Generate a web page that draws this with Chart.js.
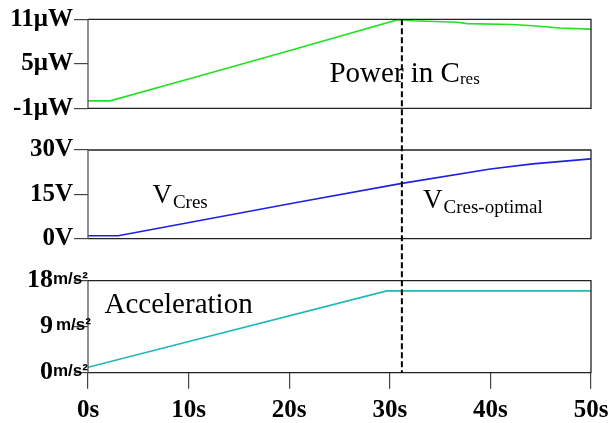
<!DOCTYPE html>
<html>
<head>
<meta charset="utf-8">
<script src="https://cdn.jsdelivr.net/npm/chart.js@4.4.1/dist/chart.umd.min.js"></script>
<style>
  html, body { margin: 0; padding: 0; background: #fff; }
  #wrap { position: relative; width: 611px; height: 423px; }
  .c { position: absolute; left: 0; }
</style>
</head>
<body>
<div id="wrap">
  <div class="c" style="top:0;width:611px;height:129px"><canvas id="c1"></canvas></div>
  <div class="c" style="top:129px;width:611px;height:130px"><canvas id="c2"></canvas></div>
  <div class="c" style="top:259px;width:611px;height:164px"><canvas id="c3"></canvas></div>
</div>
<script>
// ---- data (time in s) ----
const powerTime   = [0, 2.2, 10, 20, 30.8, 32.3, 36.7, 37.7, 42.2, 44.2, 46.9, 50];
const powerValues = [0, 0, 2.95, 6.75, 10.95, 10.8, 10.6, 10.42, 10.3, 10.12, 9.82, 9.67]; // µW

const voltTime    = [0, 3, 11, 21, 31.2, 40, 44.2, 50];
const voltValues  = [1, 1, 6.1, 12.4, 18.7, 23.6, 25.3, 27]; // V

const accTime     = [0, 29.7, 50];
const accValues   = [1.05, 16, 16]; // m/s²

const xTickValues = [0, 10, 20, 30, 40, 50];
const xTickLabels = ['0s', '10s', '20s', '30s', '40s', '50s'];

const powerTicks  = [-1, 5, 11];
const powerTickLabels = ['-1μW', '5μW', '11μW'];
const voltTicks   = [0, 15, 30];
const voltTickLabels  = ['0V', '15V', '30V'];
const accTicks    = [0, 9, 18];
const accTickNums = ['0', '9', '18'];
const accUnit     = 'm/s²';

const markerTime = 31.2;

const SERIF = '"Liberation Serif", "Times New Roman", serif';
const SANS = '"Liberation Sans", Arial, sans-serif';

function pts(t, v) { return t.map((x, i) => ({ x: x, y: v[i] })); }

// frame + dashed marker + y labels + annotations
function makePlugin(opts) {
  return {
    id: 'custom' + opts.id,
    afterDraw(chart) {
      const ctx = chart.ctx;
      const a = chart.chartArea;
      const xs = chart.scales.x, ys = chart.scales.y;
      ctx.save();
      // frame
      ctx.lineWidth = 1.3;
      ctx.strokeStyle = '#222';
      ctx.beginPath();
      ctx.moveTo(a.left, a.top); ctx.lineTo(a.right, a.top);
      ctx.lineTo(a.right, a.bottom); ctx.lineTo(a.left, a.bottom);
      ctx.stroke();
      ctx.strokeStyle = '#555';
      ctx.beginPath();
      ctx.moveTo(a.left, a.top); ctx.lineTo(a.left, a.bottom);
      ctx.stroke();
      // dashed marker (phase kept continuous across the stacked panels)
      const mx = xs.getPixelForValue(markerTime);
      ctx.strokeStyle = '#000';
      ctx.lineWidth = 2;
      ctx.setLineDash([6, 3]);
      const y0 = opts.dashFromTop ? 0 : a.top;
      const y1 = opts.dashToBottom ? chart.height : a.bottom;
      ctx.lineDashOffset = ((opts.canvasTop + y0 - 19.3) % 9 + 9) % 9;
      ctx.beginPath();
      ctx.moveTo(mx, y0); ctx.lineTo(mx, y1);
      ctx.stroke();
      ctx.setLineDash([]);
      // y labels
      ctx.fillStyle = '#000';
      ctx.textBaseline = 'middle';
      opts.yTicks.forEach((v, i) => {
        const py = ys.getPixelForValue(v);
        if (opts.unit) {
          ctx.font = 'bold 26px ' + SERIF;
          ctx.textAlign = 'right';
          ctx.fillText(opts.yLabels[i], 53, py);
          ctx.font = 'bold 17px ' + SANS;
          ctx.textAlign = 'left';
          ctx.fillText(opts.unit, v === 9 ? 56 : 53, py - 1);
        } else {
          ctx.font = 'bold 25px ' + SERIF;
          ctx.textAlign = 'right';
          ctx.fillText(opts.yLabels[i], 73, py);
        }
      });
      // annotations
      ctx.textBaseline = 'alphabetic';
      ctx.textAlign = 'left';
      opts.notes.forEach(n => {
        const px = xs.getPixelForValue(n.x);
        const py = ys.getPixelForValue(n.y);
        ctx.font = n.size + 'px ' + SERIF;
        ctx.fillText(n.text, px, py);
        if (n.sub) {
          const w = ctx.measureText(n.text).width;
          ctx.font = n.subSize + 'px ' + SERIF;
          ctx.fillText(n.sub, px + w + (n.gap || 0), py + n.subDy);
        }
      });
      ctx.restore();
    }
  };
}

function yScale(min, max, ticks) {
  return {
    type: 'linear', min: min, max: max,
    afterBuildTicks(s) { s.ticks = ticks.map(v => ({ value: v })); },
    afterFit(s) { s.width = 88; s.paddingTop = 0; s.paddingBottom = 0; },
    ticks: { display: false },
    border: { display: false },
    grid: { display: true, drawOnChartArea: false, drawTicks: true, tickLength: 14, color: '#444', lineWidth: 1.2 }
  };
}

function hiddenX() {
  return { type: 'linear', min: 0, max: 50, display: false };
}

function makeChart(id, data, color, yMin, yMax, ticks, xs, padTop, padBottom, plugin) {
  return new Chart(document.getElementById(id), {
    type: 'line',
    data: { datasets: [{ data: data, borderColor: color, borderWidth: 1.6, pointRadius: 0, tension: 0, fill: false }] },
    options: {
      responsive: true, maintainAspectRatio: false, animation: false,
      layout: { padding: { left: 0, right: 20, top: padTop, bottom: padBottom } },
      plugins: { legend: { display: false }, tooltip: { enabled: false } },
      scales: { x: xs, y: yScale(yMin, yMax, ticks) }
    },
    plugins: [plugin]
  });
}

makeChart('c1', pts(powerTime, powerValues), '#22e022', -1, 11, powerTicks, hiddenX(), 19.3, 20.7,
  makePlugin({ id: 1, canvasTop: 0, dashFromTop: false, dashToBottom: true, yTicks: powerTicks, yLabels: powerTickLabels,
    notes: [{ text: 'Power in C', size: 29, x: 24.0, y: 2.55, sub: 'res', subSize: 17, subDy: 2 }] }));

makeChart('c2', pts(voltTime, voltValues), '#1f1fe6', 0, 30, voltTicks, hiddenX(), 21, 20.3,
  makePlugin({ id: 2, canvasTop: 129, dashFromTop: true, dashToBottom: true, yTicks: voltTicks, yLabels: voltTickLabels,
    notes: [
      { text: 'V', size: 27, x: 6.4, y: 12.0, sub: 'Cres', subSize: 19, subDy: 5, gap: 1 },
      { text: 'V', size: 27, x: 33.3, y: 10.3, sub: 'Cres-optimal', subSize: 19, subDy: 5, gap: 1 }
    ] }));

const xAxis = {
  type: 'linear', min: 0, max: 50,
  afterBuildTicks(s) { s.ticks = xTickValues.map(v => ({ value: v })); },
  afterFit(s) { s.height = 164 - 113.7; s.paddingLeft = 0; s.paddingRight = 0; },
  border: { display: false },
  grid: { display: true, drawOnChartArea: false, drawTicks: true, tickLength: 16, color: '#444', lineWidth: 1.2 },
  ticks: {
    autoSkip: false, maxRotation: 0, padding: 7, color: '#000',
    font: { family: SERIF, size: 25, weight: 'bold' },
    callback: (v) => { const i = xTickValues.indexOf(v); return i >= 0 ? xTickLabels[i] : ''; }
  }
};

makeChart('c3', pts(accTime, accValues), '#20b8b8', 0, 18, accTicks, xAxis, 21.7, 0,
  makePlugin({ id: 3, canvasTop: 259, dashFromTop: true, dashToBottom: false, yTicks: accTicks, yLabels: accTickNums, unit: accUnit,
    notes: [{ text: 'Acceleration', size: 29, x: 1.64, y: 11.6 }] }));
</script>
</body>
</html>
